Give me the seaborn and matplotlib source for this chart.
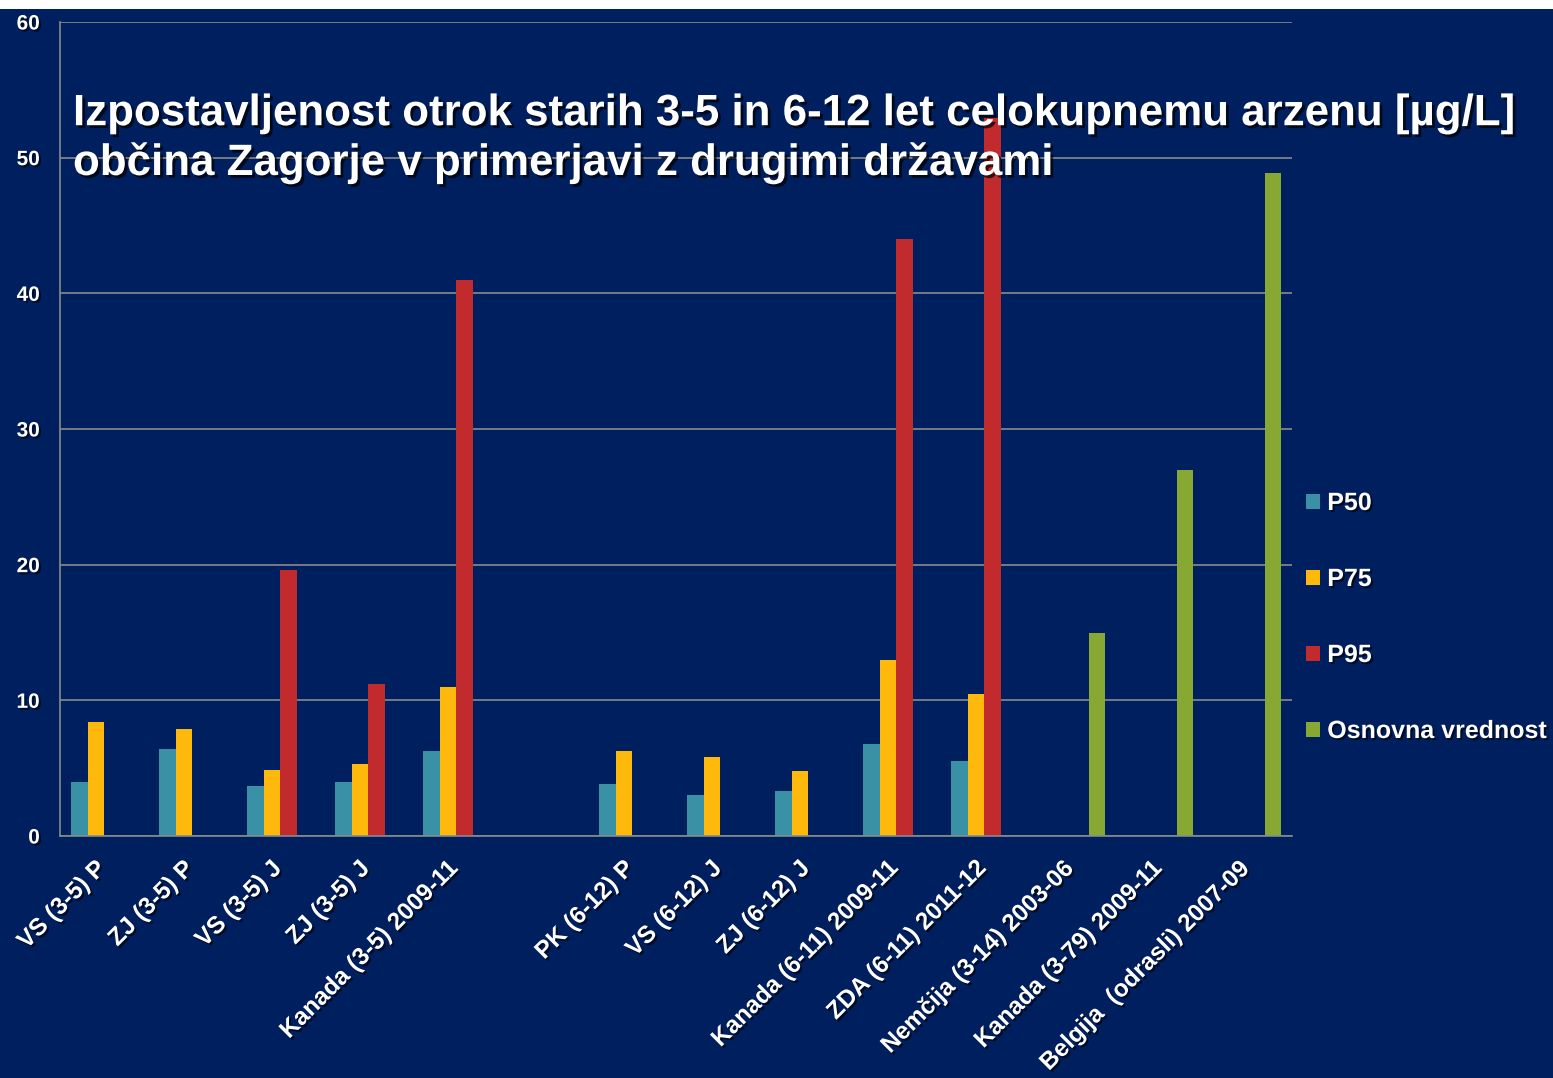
import numpy as np
import pandas as pd
import matplotlib
matplotlib.use("Agg")
import matplotlib.pyplot as plt
import matplotlib.patheffects as pe
import matplotlib.transforms as mtrans
from matplotlib.patches import Rectangle
import seaborn as sns

# categories (one empty slot separates the 3-5 and 6-12 groups)
categories = [
    "VS (3-5) P", "ZJ (3-5) P", "VS (3-5) J", "ZJ (3-5) J", "Kanada (3-5) 2009-11",
    " ",
    "PK (6-12) P", "VS (6-12) J", "ZJ (6-12) J", "Kanada (6-11) 2009-11",
    "ZDA (6-11) 2011-12", "Nemčija (3-14) 2003-06", "Kanada (3-79) 2009-11",
    "Belgija  (odrasli) 2007-09",
]
series = ["P50", "P75", "P95", "Osnovna vrednost"]

nan = np.nan
p50 = [4.0, 6.4, 3.7, 4.0, 6.3, nan, 3.8, 3.0, 3.3, 6.8, 5.5, nan, nan, nan]
p75 = [8.4, 7.9, 4.9, 5.3, 11.0, nan, 6.3, 5.8, 4.8, 13.0, 10.5, nan, nan, nan]
p95 = [nan, nan, 19.6, 11.2, 41.0, nan, nan, nan, nan, 44.0, 52.9, nan, nan, nan]
osnovna = [nan, nan, nan, nan, nan, nan, nan, nan, nan, nan, nan, 15.0, 27.0, 48.9]

colors = ["#3a90a5", "#ffb90d", "#c22b2e", "#87a832"]
bg = "#001f5e"
grid_c = "#8a8a8a"

rows = []
for name, vals in zip(series, [p50, p75, p95, osnovna]):
    for cat, v in zip(categories, vals):
        if not np.isnan(v):
            rows.append({"kategorija": cat, "serija": name, "vrednost": v})
df = pd.DataFrame(rows)

sns.set_theme(style="white")
plt.rcParams["font.family"] = ["Liberation Sans", "DejaVu Sans"]

fig = plt.figure(figsize=(15.53, 10.78), dpi=100, facecolor=bg)
ax = fig.add_axes([60 / 1553, 1 - 836 / 1078, (1292 - 60) / 1553, (836 - 22) / 1078])
ax.set_facecolor(bg)

sns.barplot(data=df, x="kategorija", y="vrednost", hue="serija",
            order=categories, hue_order=series, palette=colors,
            width=0.75, errorbar=None, saturation=1, linewidth=0,
            ax=ax, legend=True)

ax.set_xlim(-0.5, len(categories) - 0.5)
ax.set_ylim(0, 60)
ax.set_yticks(range(0, 61, 10))
ax.yaxis.grid(True, color=grid_c, linewidth=1.2)
ax.set_axisbelow(True)
ax.set_xlabel("")
ax.set_ylabel("")

for s in ["top", "right"]:
    ax.spines[s].set_visible(False)
for s in ["left", "bottom"]:
    ax.spines[s].set_color(grid_c)
    ax.spines[s].set_linewidth(1.2)

shadow = [pe.withSimplePatchShadow(offset=(1.5, -1.5), shadow_rgbFace="#000000", alpha=0.6)]
ax.tick_params(axis="y", colors=grid_c, length=5, width=1.2, labelcolor="white",
               labelsize=15, pad=9.5)
for lab in ax.get_yticklabels():
    lab.set_fontweight("bold")
    lab.set_path_effects(shadow)

ax.set_xticks(np.arange(-0.5, len(categories), 1.0), minor=True)
ax.tick_params(axis="x", which="minor", length=6.5, width=1.2, color=grid_c)
ax.tick_params(axis="x", which="major", length=0, pad=15)
ax.set_xticks(range(len(categories)))
ax.set_xticklabels(categories, rotation=45, ha="right", va="top",
                   rotation_mode="anchor", fontsize=17.5, fontweight="bold",
                   color="white")
shift = mtrans.ScaledTranslation(-10 / 100, 0, fig.dpi_scale_trans)
for lab in ax.get_xticklabels():
    lab.set_path_effects(shadow)
    lab.set_transform(lab.get_transform() + shift)

handles, labels = ax.get_legend_handles_labels()
ax.get_legend().remove()
leg = fig.legend(handles, labels, loc="center left",
                 bbox_to_anchor=(1306 / 1553, 1 - 617 / 1078), frameon=False,
                 fontsize=18, labelspacing=2.08, handlelength=0.55, handleheight=0.55,
                 handletextpad=0.3, borderpad=0, borderaxespad=0)
for t in leg.get_texts():
    t.set_color("white")
    t.set_fontweight("bold")
    t.set_path_effects(shadow)

fig.text(73 / 1553, 1 - 175 / 1078,
         "Izpostavljenost otrok starih 3-5 in 6-12 let celokupnemu arzenu [µg/L]\n"
         "občina Zagorje v primerjavi z drugimi državami",
         ha="left", va="baseline", fontsize=31.6, fontweight="bold", color="white",
         linespacing=1.2, path_effects=[pe.withSimplePatchShadow(offset=(2, -2),
                                                                  shadow_rgbFace="#000000", alpha=0.7)])

# white strip along the top edge
fig.patches.append(Rectangle((0, 1 - 9 / 1078), 1, 9 / 1078, transform=fig.transFigure,
                             facecolor="white", edgecolor="none", zorder=10))

fig.savefig("out.png", dpi=100, facecolor=bg)
